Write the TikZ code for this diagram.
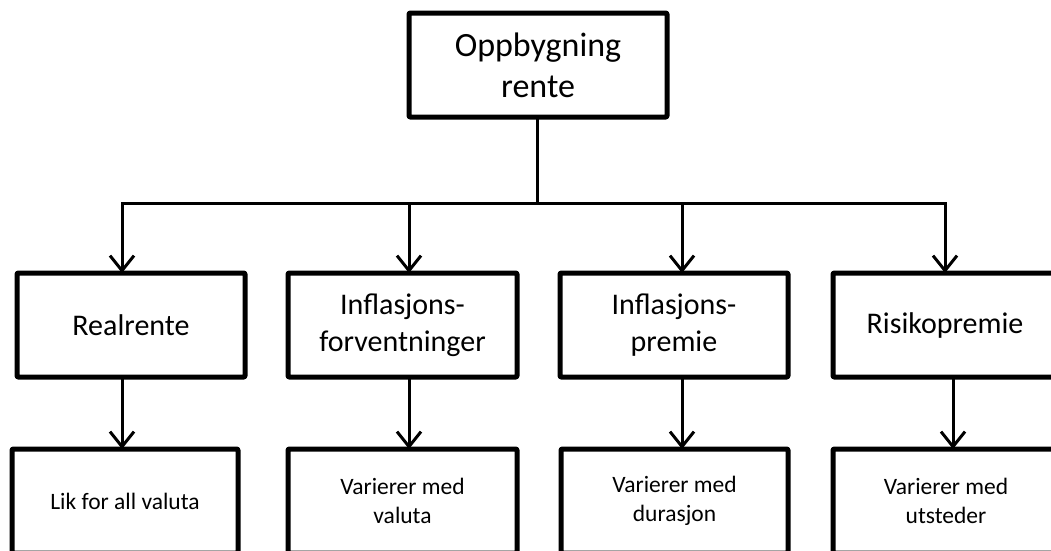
\documentclass[tikz,border=0pt]{standalone}
\usepackage{fontspec}
\setmainfont{Carlito}
\usetikzlibrary{arrows.meta}

\tikzset{
  box/.style={draw, line width=5pt, rectangle, inner sep=0pt, outer sep=0pt,
              align=center, line join=round, rounded corners=1pt},
  topbox/.style={box, minimum width=258pt, minimum height=104pt,
                 font=\fontsize{34}{41}\selectfont},
  midbox/.style={box, minimum height=104pt,
                 font=\fontsize{30}{37}\selectfont},
  lowbox/.style={box, minimum height=104pt,
                 font=\fontsize{23.5}{29}\selectfont},
  conn/.style={line width=3pt, line join=miter},
  tip/.style={-{Straight Barb[length=15pt,width=24pt]}},
}

\begin{document}
\begin{tikzpicture}[x=1pt, y=-1pt]
  \useasboundingbox (0,0) rectangle (1051,550);
  \clip (0,0) rectangle (1051,550);

  % root
  \node[topbox] (root) at (538,65) {Oppbygning\\rente};

  % components of the interest rate
  \node[midbox, minimum width=228pt] (b1) at (131,325)   {Realrente};
  \node[midbox, minimum width=229pt] (b2) at (402.5,325) {Inflasjons-\\forventninger};
  \node[midbox, minimum width=228pt] (b3) at (674,325)   {Inflasjons-\\premie};
  \node[midbox, minimum width=224pt] (b4) at (945,325)   {Risikopremie};

  % what each component depends on
  \node[lowbox, minimum width=226pt] (c1) at (125,501)   {Lik for all valuta};
  \node[lowbox, minimum width=229pt] (c2) at (402.5,501) {Varierer med\\valuta};
  \node[lowbox, minimum width=227pt] (c3) at (674.5,501) {Varierer med\\durasjon};
  \node[lowbox, minimum width=226pt] (c4) at (946,501)   {Varierer med\\utsteder};

  % distribution bus
  \coordinate (j1) at (122,203);
  \coordinate (j2) at (409,203);
  \coordinate (j3) at (682,203);
  \coordinate (j4) at (945,203);
  \coordinate (k4) at (953,0);

  \draw[conn] (root.south -| 537,0) -- (j1 -| 537,0);
  \draw[conn, {Straight Barb[length=15pt,width=24pt]}-{Straight Barb[length=15pt,width=24pt]}]
    (b1.north -| j1) -- (j1) -- (j4) -- (b4.north -| j4);
  \draw[conn, tip] (j2) -- (b2.north -| j2);
  \draw[conn, tip] (j3) -- (b3.north -| j3);

  % second level
  \draw[conn, tip] (b1.south -| j1) -- (c1.north -| j1);
  \draw[conn, tip] (b2.south -| j2) -- (c2.north -| j2);
  \draw[conn, tip] (b3.south -| j3) -- (c3.north -| j3);
  \draw[conn, tip] (b4.south -| k4) -- (c4.north -| k4);
\end{tikzpicture}
\end{document}
